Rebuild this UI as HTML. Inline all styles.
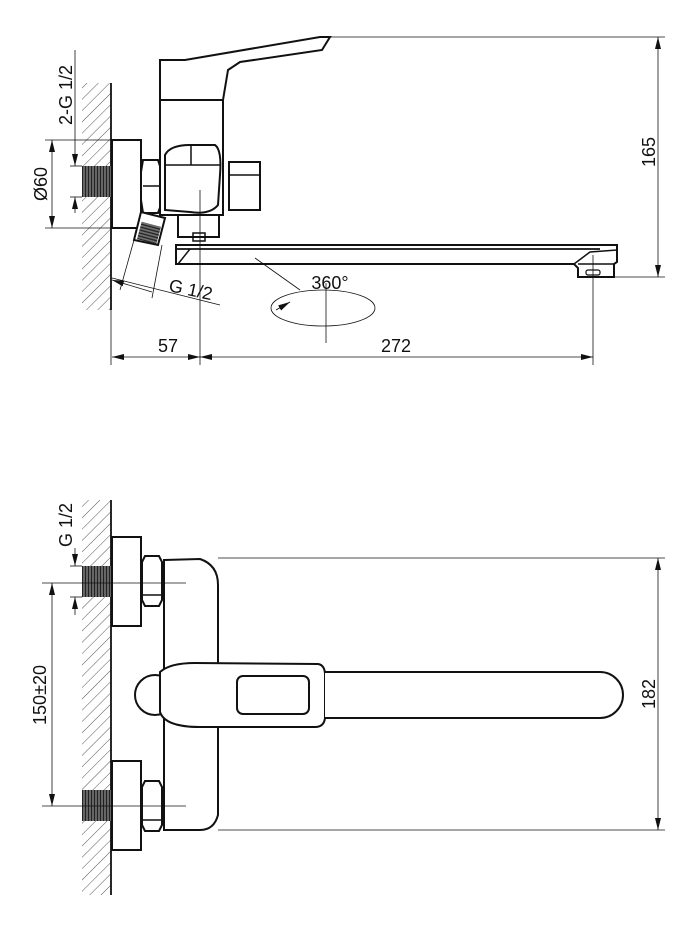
<!DOCTYPE html>
<html><head><style>body{margin:0;background:#fff}svg{display:block}text{font-family:"Liberation Sans",sans-serif;fill:#111}</style></head>
<body>
<svg width="700" height="931" viewBox="0 0 700 931" xmlns="http://www.w3.org/2000/svg">
<defs>
<pattern id="h" width="8" height="8" patternUnits="userSpaceOnUse" patternTransform="rotate(45)"><line x1="0" y1="0" x2="0" y2="8" stroke="#555" stroke-width="1"/></pattern>
<pattern id="t" width="3" height="3" patternUnits="userSpaceOnUse"><rect width="3" height="3" fill="#777"/><line x1="1.5" y1="0" x2="1.5" y2="3" stroke="#222" stroke-width="1.4"/></pattern>
<pattern id="tv" width="3" height="3" patternUnits="userSpaceOnUse"><rect width="3" height="3" fill="#777"/><line x1="0" y1="1.5" x2="3" y2="1.5" stroke="#222" stroke-width="1.4"/></pattern>
<marker id="a" markerWidth="12" markerHeight="6" refX="12" refY="3" orient="auto-start-reverse" markerUnits="userSpaceOnUse"><path d="M0,0 L12,3 L0,6z" fill="#111"/></marker>
</defs>
<g stroke="#111" fill="none">
<!-- TOP VIEW -->
<rect x="82" y="83" width="29" height="227" fill="url(#h)" stroke="none"/>
<line x1="111" y1="83" x2="111" y2="310" stroke-width="1.8"/>
<rect x="82" y="166" width="29" height="31" fill="url(#t)" stroke="none"/>
<rect x="112" y="140" width="29" height="88" stroke-width="2" fill="#fff"/>
<path d="M143,160 L158,160 L162,172 L162,202 L158,213 L143,213 L141,200 L141,172Z" stroke-width="2" fill="#fff"/>
<line x1="143" y1="186" x2="160" y2="186" stroke-width="1.5"/>
<path d="M160,100 L160,60 L185,60 L320,37 L330,37 L322,50 L240,62 L228,70 L223,100 Z" stroke-width="2" fill="#fff"/>
<path d="M160,100 L223,100 L223,215 L160,215 Z" stroke-width="2" fill="#fff"/>
<path d="M165,155 Q170,145 190,145 L215,145 Q222,150 220,175 L218,205 Q210,215 190,212 L165,210 Z" stroke-width="2"/>
<line x1="165" y1="165" x2="220" y2="165" stroke-width="1.5"/><line x1="191" y1="145" x2="191" y2="165" stroke-width="1.5"/>
<rect x="229" y="162" width="31" height="48" stroke-width="2" fill="#fff"/>
<line x1="229" y1="175" x2="260" y2="175" stroke-width="1.5"/>
<rect x="178" y="215" width="41" height="22" stroke-width="2" fill="#fff"/>
<rect x="193" y="233" width="12" height="8" stroke-width="1.5"/>
<path d="M141,212 L165,218 L158,245 L134,240 Z" stroke-width="2" fill="#fff"/>
<rect x="139" y="224" width="20" height="18" fill="url(#tv)" stroke="none" transform="rotate(15 149 233)"/>
<path d="M176,245 L617,245 L617,262 L614,264 L614,277 L578,277 L578,268 L574,264 L176,264 Z" stroke-width="2" fill="#fff"/>
<line x1="176" y1="249" x2="600" y2="249" stroke-width="1.8"/>
<path d="M178,264 L190,249" stroke-width="1.5"/>
<path d="M574,264 L590,252 L617,250" stroke-width="1.5"/>
<line x1="578" y1="264" x2="614" y2="264" stroke-width="1.5"/>
<rect x="586" y="270" width="14" height="5" rx="2" stroke-width="1.2"/>
<!-- dims top -->
<g stroke-width="0.8">
<line x1="330" y1="37" x2="665" y2="37"/><line x1="600" y1="277" x2="665" y2="277"/>
<line x1="658" y1="37" x2="658" y2="277" marker-start="url(#a)" marker-end="url(#a)"/>
<line x1="111" y1="310" x2="111" y2="365"/><line x1="200" y1="190" x2="200" y2="365"/><line x1="593" y1="255" x2="593" y2="365"/>
<line x1="112" y1="357" x2="200" y2="357" marker-start="url(#a)" marker-end="url(#a)"/>
<line x1="200" y1="357" x2="593" y2="357" marker-start="url(#a)" marker-end="url(#a)"/>
<line x1="45" y1="140" x2="112" y2="140"/><line x1="45" y1="228" x2="112" y2="228"/>
<line x1="52" y1="140" x2="52" y2="228" marker-start="url(#a)" marker-end="url(#a)"/>
<line x1="70" y1="166" x2="82" y2="166"/><line x1="70" y1="197" x2="82" y2="197"/>
<line x1="75" y1="50" x2="75" y2="166" marker-end="url(#a)"/><line x1="75" y1="197" x2="75" y2="213" marker-start="url(#a)"/>
<line x1="112" y1="278" x2="220" y2="305"/>
<line x1="120" y1="290" x2="134" y2="240"/><line x1="152" y1="298" x2="162" y2="245"/>
<line x1="112" y1="280" x2="152" y2="292" marker-start="url(#a)"/>
<line x1="255" y1="258" x2="300" y2="290"/>
<ellipse cx="323" cy="308" rx="52" ry="18"/>
<line x1="326" y1="283" x2="326" y2="343"/>
</g>
<path d="M276,310 L290,302" stroke-width="1" marker-end="url(#a)"/>
<!-- BOTTOM VIEW -->
<rect x="82" y="500" width="29" height="395" fill="url(#h)" stroke="none"/>
<line x1="111" y1="500" x2="111" y2="895" stroke-width="1.8"/>
<rect x="82" y="566" width="29" height="31" fill="url(#t)" stroke="none"/>
<rect x="82" y="790" width="29" height="31" fill="url(#t)" stroke="none"/>
<rect x="112" y="537" width="29" height="89" stroke-width="2" fill="#fff"/>
<rect x="112" y="761" width="29" height="89" stroke-width="2" fill="#fff"/>
<path d="M145,556 L159,556 L162,562 L162,600 L159,606 L145,606 L142,600 L142,562Z" stroke-width="2" fill="#fff"/>
<line x1="142" y1="595" x2="162" y2="595" stroke-width="1.5"/>
<path d="M145,781 L159,781 L162,787 L162,825 L159,831 L145,831 L142,825 L142,787Z" stroke-width="2" fill="#fff"/>
<line x1="142" y1="820" x2="162" y2="820" stroke-width="1.5"/>
<path d="M164,560 L200,559 Q218,565 218,585 L218,815 Q214,830 200,830 L164,830 Z" stroke-width="2" fill="#fff"/>
<circle cx="155" cy="695" r="20" stroke-width="2" fill="#fff"/>
<path d="M160,672 Q170,663 195,663 L318,664 Q325,665 325,675 L325,718 Q324,727 315,727 L200,727 Q165,727 160,712 Z" stroke-width="2" fill="#fff"/>
<rect x="237" y="676" width="72" height="38" rx="6" stroke-width="2"/>
<path d="M325,672 L600,672 A23,23 0 0 1 600,718 L325,718" stroke-width="2" fill="#fff"/>
<g stroke-width="0.8">
<line x1="218" y1="558" x2="665" y2="558"/><line x1="218" y1="830" x2="665" y2="830"/>
<line x1="658" y1="558" x2="658" y2="830" marker-start="url(#a)" marker-end="url(#a)"/>
<line x1="42" y1="583" x2="186" y2="583"/><line x1="42" y1="806" x2="186" y2="806"/>
<line x1="52" y1="583" x2="52" y2="806" marker-start="url(#a)" marker-end="url(#a)"/>
<line x1="70" y1="566" x2="82" y2="566"/><line x1="70" y1="597" x2="82" y2="597"/>
<line x1="75" y1="548" x2="75" y2="566" marker-end="url(#a)"/><line x1="75" y1="597" x2="75" y2="615" marker-start="url(#a)"/>
</g>
</g>
<g font-size="18">
<text x="168" y="352" text-anchor="middle">57</text>
<text x="396" y="352" text-anchor="middle">272</text>
<text x="330" y="289" text-anchor="middle">360°</text>
<text x="168" y="291" transform="rotate(12 168 291)">G 1/2</text>
<text transform="translate(655,152) rotate(-90)" text-anchor="middle">165</text>
<text transform="translate(47,184) rotate(-90)" text-anchor="middle">Ø60</text>
<text transform="translate(72,95) rotate(-90)" text-anchor="middle">2-G 1/2</text>
<text transform="translate(655,694) rotate(-90)" text-anchor="middle">182</text>
<text transform="translate(46,695) rotate(-90)" text-anchor="middle">150±20</text>
<text transform="translate(72,525) rotate(-90)" text-anchor="middle">G 1/2</text>
</g>
</svg>
</body></html>
